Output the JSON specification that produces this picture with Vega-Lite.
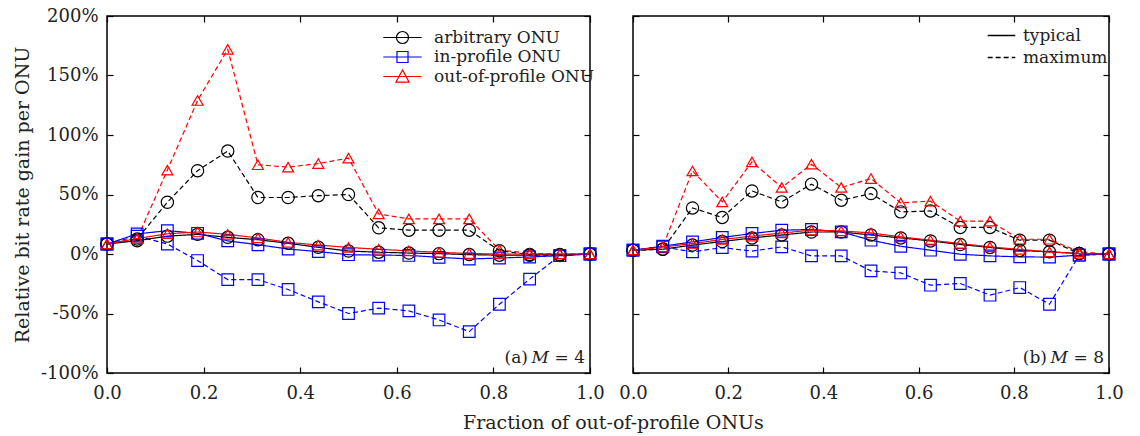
{
  "$schema": "https://vega.github.io/schema/vega-lite/v6.json",
  "background": "white",
  "padding": {"left": 12, "top": 6, "right": 5, "bottom": 5},
  "config": {
    "font": "DejaVu Serif",
    "view": {"stroke": "#000", "strokeWidth": 1.5},
    "axis": {
      "labelFont": "DejaVu Serif", "labelFontSize": 18, "labelColor": "#222", "labelFlush": false,
      "titleFont": "DejaVu Serif", "titleFontSize": 19, "titleFontWeight": "normal", "titleColor": "#222",
      "grid": false, "domain": false, "tickColor": "#000", "tickSize": -6, "tickWidth": 1.2
    },
    "axisX": {"labelPadding": 17},
    "axisY": {"labelPadding": 15},
    "legend": {
      "labelFont": "DejaVu Serif", "labelFontSize": 17, "labelColor": "#222", "padding": 0, "labelLimit": 400
    }
  },
  "datasets": {
    "d": [
      {"panel":"a","onu":"arbitrary ONU","stat":"maximum","x":0,"y":8.4},
      {"panel":"a","onu":"arbitrary ONU","stat":"maximum","x":0.0625,"y":12.6},
      {"panel":"a","onu":"arbitrary ONU","stat":"maximum","x":0.125,"y":43.5},
      {"panel":"a","onu":"arbitrary ONU","stat":"maximum","x":0.1875,"y":70},
      {"panel":"a","onu":"arbitrary ONU","stat":"maximum","x":0.25,"y":86.5},
      {"panel":"a","onu":"arbitrary ONU","stat":"maximum","x":0.3125,"y":47.5},
      {"panel":"a","onu":"arbitrary ONU","stat":"maximum","x":0.375,"y":47.5},
      {"panel":"a","onu":"arbitrary ONU","stat":"maximum","x":0.4375,"y":49},
      {"panel":"a","onu":"arbitrary ONU","stat":"maximum","x":0.5,"y":50},
      {"panel":"a","onu":"arbitrary ONU","stat":"maximum","x":0.5625,"y":22},
      {"panel":"a","onu":"arbitrary ONU","stat":"maximum","x":0.625,"y":20},
      {"panel":"a","onu":"arbitrary ONU","stat":"maximum","x":0.6875,"y":20},
      {"panel":"a","onu":"arbitrary ONU","stat":"maximum","x":0.75,"y":20},
      {"panel":"a","onu":"arbitrary ONU","stat":"maximum","x":0.8125,"y":2.8},
      {"panel":"a","onu":"arbitrary ONU","stat":"maximum","x":0.875,"y":-0.5},
      {"panel":"a","onu":"arbitrary ONU","stat":"maximum","x":0.9375,"y":-1.2},
      {"panel":"a","onu":"arbitrary ONU","stat":"maximum","x":1,"y":0},
      {"panel":"a","onu":"in-profile ONU","stat":"maximum","x":0,"y":8.4},
      {"panel":"a","onu":"in-profile ONU","stat":"maximum","x":0.0625,"y":15},
      {"panel":"a","onu":"in-profile ONU","stat":"maximum","x":0.125,"y":8.4},
      {"panel":"a","onu":"in-profile ONU","stat":"maximum","x":0.1875,"y":-5.5},
      {"panel":"a","onu":"in-profile ONU","stat":"maximum","x":0.25,"y":-21.5},
      {"panel":"a","onu":"in-profile ONU","stat":"maximum","x":0.3125,"y":-21.5},
      {"panel":"a","onu":"in-profile ONU","stat":"maximum","x":0.375,"y":-29.8},
      {"panel":"a","onu":"in-profile ONU","stat":"maximum","x":0.4375,"y":-40.2},
      {"panel":"a","onu":"in-profile ONU","stat":"maximum","x":0.5,"y":-50},
      {"panel":"a","onu":"in-profile ONU","stat":"maximum","x":0.5625,"y":-45.5},
      {"panel":"a","onu":"in-profile ONU","stat":"maximum","x":0.625,"y":-47.8},
      {"panel":"a","onu":"in-profile ONU","stat":"maximum","x":0.6875,"y":-55.4},
      {"panel":"a","onu":"in-profile ONU","stat":"maximum","x":0.75,"y":-65.2},
      {"panel":"a","onu":"in-profile ONU","stat":"maximum","x":0.8125,"y":-42.2},
      {"panel":"a","onu":"in-profile ONU","stat":"maximum","x":0.875,"y":-21.1},
      {"panel":"a","onu":"in-profile ONU","stat":"maximum","x":0.9375,"y":-1.4},
      {"panel":"a","onu":"in-profile ONU","stat":"maximum","x":1,"y":0},
      {"panel":"a","onu":"out-of-profile ONU","stat":"maximum","x":0,"y":8.4},
      {"panel":"a","onu":"out-of-profile ONU","stat":"maximum","x":0.0625,"y":13},
      {"panel":"a","onu":"out-of-profile ONU","stat":"maximum","x":0.125,"y":70.5},
      {"panel":"a","onu":"out-of-profile ONU","stat":"maximum","x":0.1875,"y":129},
      {"panel":"a","onu":"out-of-profile ONU","stat":"maximum","x":0.25,"y":172},
      {"panel":"a","onu":"out-of-profile ONU","stat":"maximum","x":0.3125,"y":75},
      {"panel":"a","onu":"out-of-profile ONU","stat":"maximum","x":0.375,"y":73},
      {"panel":"a","onu":"out-of-profile ONU","stat":"maximum","x":0.4375,"y":76},
      {"panel":"a","onu":"out-of-profile ONU","stat":"maximum","x":0.5,"y":80.6},
      {"panel":"a","onu":"out-of-profile ONU","stat":"maximum","x":0.5625,"y":33.7},
      {"panel":"a","onu":"out-of-profile ONU","stat":"maximum","x":0.625,"y":29.5},
      {"panel":"a","onu":"out-of-profile ONU","stat":"maximum","x":0.6875,"y":29.5},
      {"panel":"a","onu":"out-of-profile ONU","stat":"maximum","x":0.75,"y":29.5},
      {"panel":"a","onu":"out-of-profile ONU","stat":"maximum","x":0.8125,"y":3.4},
      {"panel":"a","onu":"out-of-profile ONU","stat":"maximum","x":0.875,"y":0.5},
      {"panel":"a","onu":"out-of-profile ONU","stat":"maximum","x":0.9375,"y":0},
      {"panel":"a","onu":"out-of-profile ONU","stat":"maximum","x":1,"y":0},
      {"panel":"a","onu":"arbitrary ONU","stat":"typical","x":0,"y":8.4},
      {"panel":"a","onu":"arbitrary ONU","stat":"typical","x":0.0625,"y":11.2},
      {"panel":"a","onu":"arbitrary ONU","stat":"typical","x":0.125,"y":15},
      {"panel":"a","onu":"arbitrary ONU","stat":"typical","x":0.1875,"y":16.5},
      {"panel":"a","onu":"arbitrary ONU","stat":"typical","x":0.25,"y":14},
      {"panel":"a","onu":"arbitrary ONU","stat":"typical","x":0.3125,"y":12},
      {"panel":"a","onu":"arbitrary ONU","stat":"typical","x":0.375,"y":9},
      {"panel":"a","onu":"arbitrary ONU","stat":"typical","x":0.4375,"y":5.6},
      {"panel":"a","onu":"arbitrary ONU","stat":"typical","x":0.5,"y":2.5},
      {"panel":"a","onu":"arbitrary ONU","stat":"typical","x":0.5625,"y":1.5},
      {"panel":"a","onu":"arbitrary ONU","stat":"typical","x":0.625,"y":0.8},
      {"panel":"a","onu":"arbitrary ONU","stat":"typical","x":0.6875,"y":0.3},
      {"panel":"a","onu":"arbitrary ONU","stat":"typical","x":0.75,"y":-0.5},
      {"panel":"a","onu":"arbitrary ONU","stat":"typical","x":0.8125,"y":-1},
      {"panel":"a","onu":"arbitrary ONU","stat":"typical","x":0.875,"y":-1},
      {"panel":"a","onu":"arbitrary ONU","stat":"typical","x":0.9375,"y":-0.5},
      {"panel":"a","onu":"arbitrary ONU","stat":"typical","x":1,"y":0},
      {"panel":"a","onu":"in-profile ONU","stat":"typical","x":0,"y":8.4},
      {"panel":"a","onu":"in-profile ONU","stat":"typical","x":0.0625,"y":16.9},
      {"panel":"a","onu":"in-profile ONU","stat":"typical","x":0.125,"y":19.6},
      {"panel":"a","onu":"in-profile ONU","stat":"typical","x":0.1875,"y":17.4},
      {"panel":"a","onu":"in-profile ONU","stat":"typical","x":0.25,"y":11},
      {"panel":"a","onu":"in-profile ONU","stat":"typical","x":0.3125,"y":7.8},
      {"panel":"a","onu":"in-profile ONU","stat":"typical","x":0.375,"y":4.2},
      {"panel":"a","onu":"in-profile ONU","stat":"typical","x":0.4375,"y":2},
      {"panel":"a","onu":"in-profile ONU","stat":"typical","x":0.5,"y":-0.6},
      {"panel":"a","onu":"in-profile ONU","stat":"typical","x":0.5625,"y":-0.9},
      {"panel":"a","onu":"in-profile ONU","stat":"typical","x":0.625,"y":-1.2},
      {"panel":"a","onu":"in-profile ONU","stat":"typical","x":0.6875,"y":-2.8},
      {"panel":"a","onu":"in-profile ONU","stat":"typical","x":0.75,"y":-4.2},
      {"panel":"a","onu":"in-profile ONU","stat":"typical","x":0.8125,"y":-3.4},
      {"panel":"a","onu":"in-profile ONU","stat":"typical","x":0.875,"y":-2.5},
      {"panel":"a","onu":"in-profile ONU","stat":"typical","x":0.9375,"y":-1.4},
      {"panel":"a","onu":"in-profile ONU","stat":"typical","x":1,"y":0},
      {"panel":"a","onu":"out-of-profile ONU","stat":"typical","x":0,"y":8.4},
      {"panel":"a","onu":"out-of-profile ONU","stat":"typical","x":0.0625,"y":13},
      {"panel":"a","onu":"out-of-profile ONU","stat":"typical","x":0.125,"y":17},
      {"panel":"a","onu":"out-of-profile ONU","stat":"typical","x":0.1875,"y":18.5},
      {"panel":"a","onu":"out-of-profile ONU","stat":"typical","x":0.25,"y":16.5},
      {"panel":"a","onu":"out-of-profile ONU","stat":"typical","x":0.3125,"y":13.5},
      {"panel":"a","onu":"out-of-profile ONU","stat":"typical","x":0.375,"y":9.8},
      {"panel":"a","onu":"out-of-profile ONU","stat":"typical","x":0.4375,"y":7.5},
      {"panel":"a","onu":"out-of-profile ONU","stat":"typical","x":0.5,"y":5.5},
      {"panel":"a","onu":"out-of-profile ONU","stat":"typical","x":0.5625,"y":4},
      {"panel":"a","onu":"out-of-profile ONU","stat":"typical","x":0.625,"y":2.6},
      {"panel":"a","onu":"out-of-profile ONU","stat":"typical","x":0.6875,"y":1.4},
      {"panel":"a","onu":"out-of-profile ONU","stat":"typical","x":0.75,"y":0.4},
      {"panel":"a","onu":"out-of-profile ONU","stat":"typical","x":0.8125,"y":0},
      {"panel":"a","onu":"out-of-profile ONU","stat":"typical","x":0.875,"y":0},
      {"panel":"a","onu":"out-of-profile ONU","stat":"typical","x":0.9375,"y":0},
      {"panel":"a","onu":"out-of-profile ONU","stat":"typical","x":1,"y":0},
      {"panel":"b","onu":"arbitrary ONU","stat":"maximum","x":0,"y":3.2},
      {"panel":"b","onu":"arbitrary ONU","stat":"maximum","x":0.0625,"y":4},
      {"panel":"b","onu":"arbitrary ONU","stat":"maximum","x":0.125,"y":38.7},
      {"panel":"b","onu":"arbitrary ONU","stat":"maximum","x":0.1875,"y":30.7},
      {"panel":"b","onu":"arbitrary ONU","stat":"maximum","x":0.25,"y":53},
      {"panel":"b","onu":"arbitrary ONU","stat":"maximum","x":0.3125,"y":43.8},
      {"panel":"b","onu":"arbitrary ONU","stat":"maximum","x":0.375,"y":58.7},
      {"panel":"b","onu":"arbitrary ONU","stat":"maximum","x":0.4375,"y":45.2},
      {"panel":"b","onu":"arbitrary ONU","stat":"maximum","x":0.5,"y":50.8},
      {"panel":"b","onu":"arbitrary ONU","stat":"maximum","x":0.5625,"y":35.4},
      {"panel":"b","onu":"arbitrary ONU","stat":"maximum","x":0.625,"y":36.2},
      {"panel":"b","onu":"arbitrary ONU","stat":"maximum","x":0.6875,"y":22.3},
      {"panel":"b","onu":"arbitrary ONU","stat":"maximum","x":0.75,"y":22.3},
      {"panel":"b","onu":"arbitrary ONU","stat":"maximum","x":0.8125,"y":11.6},
      {"panel":"b","onu":"arbitrary ONU","stat":"maximum","x":0.875,"y":11.6},
      {"panel":"b","onu":"arbitrary ONU","stat":"maximum","x":0.9375,"y":0.4},
      {"panel":"b","onu":"arbitrary ONU","stat":"maximum","x":1,"y":0},
      {"panel":"b","onu":"in-profile ONU","stat":"maximum","x":0,"y":3.2},
      {"panel":"b","onu":"in-profile ONU","stat":"maximum","x":0.0625,"y":6},
      {"panel":"b","onu":"in-profile ONU","stat":"maximum","x":0.125,"y":1.8},
      {"panel":"b","onu":"in-profile ONU","stat":"maximum","x":0.1875,"y":5.4},
      {"panel":"b","onu":"in-profile ONU","stat":"maximum","x":0.25,"y":2.4},
      {"panel":"b","onu":"in-profile ONU","stat":"maximum","x":0.3125,"y":6},
      {"panel":"b","onu":"in-profile ONU","stat":"maximum","x":0.375,"y":-1.6},
      {"panel":"b","onu":"in-profile ONU","stat":"maximum","x":0.4375,"y":-1.6},
      {"panel":"b","onu":"in-profile ONU","stat":"maximum","x":0.5,"y":-14.2},
      {"panel":"b","onu":"in-profile ONU","stat":"maximum","x":0.5625,"y":-15.9},
      {"panel":"b","onu":"in-profile ONU","stat":"maximum","x":0.625,"y":-26.2},
      {"panel":"b","onu":"in-profile ONU","stat":"maximum","x":0.6875,"y":-24.8},
      {"panel":"b","onu":"in-profile ONU","stat":"maximum","x":0.75,"y":-34.6},
      {"panel":"b","onu":"in-profile ONU","stat":"maximum","x":0.8125,"y":-28.2},
      {"panel":"b","onu":"in-profile ONU","stat":"maximum","x":0.875,"y":-42.2},
      {"panel":"b","onu":"in-profile ONU","stat":"maximum","x":0.9375,"y":-1},
      {"panel":"b","onu":"in-profile ONU","stat":"maximum","x":1,"y":0},
      {"panel":"b","onu":"out-of-profile ONU","stat":"maximum","x":0,"y":3.2},
      {"panel":"b","onu":"out-of-profile ONU","stat":"maximum","x":0.0625,"y":6},
      {"panel":"b","onu":"out-of-profile ONU","stat":"maximum","x":0.125,"y":69.8},
      {"panel":"b","onu":"out-of-profile ONU","stat":"maximum","x":0.1875,"y":43.8},
      {"panel":"b","onu":"out-of-profile ONU","stat":"maximum","x":0.25,"y":77.4},
      {"panel":"b","onu":"out-of-profile ONU","stat":"maximum","x":0.3125,"y":55.9},
      {"panel":"b","onu":"out-of-profile ONU","stat":"maximum","x":0.375,"y":75.5},
      {"panel":"b","onu":"out-of-profile ONU","stat":"maximum","x":0.4375,"y":55.9},
      {"panel":"b","onu":"out-of-profile ONU","stat":"maximum","x":0.5,"y":63.4},
      {"panel":"b","onu":"out-of-profile ONU","stat":"maximum","x":0.5625,"y":43},
      {"panel":"b","onu":"out-of-profile ONU","stat":"maximum","x":0.625,"y":44.4},
      {"panel":"b","onu":"out-of-profile ONU","stat":"maximum","x":0.6875,"y":27.6},
      {"panel":"b","onu":"out-of-profile ONU","stat":"maximum","x":0.75,"y":27.6},
      {"panel":"b","onu":"out-of-profile ONU","stat":"maximum","x":0.8125,"y":12.4},
      {"panel":"b","onu":"out-of-profile ONU","stat":"maximum","x":0.875,"y":12.4},
      {"panel":"b","onu":"out-of-profile ONU","stat":"maximum","x":0.9375,"y":1.8},
      {"panel":"b","onu":"out-of-profile ONU","stat":"maximum","x":1,"y":0},
      {"panel":"b","onu":"arbitrary ONU","stat":"typical","x":0,"y":3.2},
      {"panel":"b","onu":"arbitrary ONU","stat":"typical","x":0.0625,"y":4},
      {"panel":"b","onu":"arbitrary ONU","stat":"typical","x":0.125,"y":7.5},
      {"panel":"b","onu":"arbitrary ONU","stat":"typical","x":0.1875,"y":10.5},
      {"panel":"b","onu":"arbitrary ONU","stat":"typical","x":0.25,"y":13.5},
      {"panel":"b","onu":"arbitrary ONU","stat":"typical","x":0.3125,"y":16},
      {"panel":"b","onu":"arbitrary ONU","stat":"typical","x":0.375,"y":18.5},
      {"panel":"b","onu":"arbitrary ONU","stat":"typical","x":0.4375,"y":18.5},
      {"panel":"b","onu":"arbitrary ONU","stat":"typical","x":0.5,"y":16},
      {"panel":"b","onu":"arbitrary ONU","stat":"typical","x":0.5625,"y":13.5},
      {"panel":"b","onu":"arbitrary ONU","stat":"typical","x":0.625,"y":11},
      {"panel":"b","onu":"arbitrary ONU","stat":"typical","x":0.6875,"y":8},
      {"panel":"b","onu":"arbitrary ONU","stat":"typical","x":0.75,"y":5.5},
      {"panel":"b","onu":"arbitrary ONU","stat":"typical","x":0.8125,"y":3},
      {"panel":"b","onu":"arbitrary ONU","stat":"typical","x":0.875,"y":1.8},
      {"panel":"b","onu":"arbitrary ONU","stat":"typical","x":0.9375,"y":0.4},
      {"panel":"b","onu":"arbitrary ONU","stat":"typical","x":1,"y":0},
      {"panel":"b","onu":"in-profile ONU","stat":"typical","x":0,"y":3.2},
      {"panel":"b","onu":"in-profile ONU","stat":"typical","x":0.0625,"y":6.5},
      {"panel":"b","onu":"in-profile ONU","stat":"typical","x":0.125,"y":10.2},
      {"panel":"b","onu":"in-profile ONU","stat":"typical","x":0.1875,"y":13.9},
      {"panel":"b","onu":"in-profile ONU","stat":"typical","x":0.25,"y":17.2},
      {"panel":"b","onu":"in-profile ONU","stat":"typical","x":0.3125,"y":20},
      {"panel":"b","onu":"in-profile ONU","stat":"typical","x":0.375,"y":20.6},
      {"panel":"b","onu":"in-profile ONU","stat":"typical","x":0.4375,"y":18.6},
      {"panel":"b","onu":"in-profile ONU","stat":"typical","x":0.5,"y":11.6},
      {"panel":"b","onu":"in-profile ONU","stat":"typical","x":0.5625,"y":6.5},
      {"panel":"b","onu":"in-profile ONU","stat":"typical","x":0.625,"y":3.2},
      {"panel":"b","onu":"in-profile ONU","stat":"typical","x":0.6875,"y":-0.2},
      {"panel":"b","onu":"in-profile ONU","stat":"typical","x":0.75,"y":-1.6},
      {"panel":"b","onu":"in-profile ONU","stat":"typical","x":0.8125,"y":-2.4},
      {"panel":"b","onu":"in-profile ONU","stat":"typical","x":0.875,"y":-2.6},
      {"panel":"b","onu":"in-profile ONU","stat":"typical","x":0.9375,"y":-1},
      {"panel":"b","onu":"in-profile ONU","stat":"typical","x":1,"y":0},
      {"panel":"b","onu":"out-of-profile ONU","stat":"typical","x":0,"y":3.2},
      {"panel":"b","onu":"out-of-profile ONU","stat":"typical","x":0.0625,"y":5.8},
      {"panel":"b","onu":"out-of-profile ONU","stat":"typical","x":0.125,"y":8.8},
      {"panel":"b","onu":"out-of-profile ONU","stat":"typical","x":0.1875,"y":12.2},
      {"panel":"b","onu":"out-of-profile ONU","stat":"typical","x":0.25,"y":15},
      {"panel":"b","onu":"out-of-profile ONU","stat":"typical","x":0.3125,"y":17.7},
      {"panel":"b","onu":"out-of-profile ONU","stat":"typical","x":0.375,"y":20},
      {"panel":"b","onu":"out-of-profile ONU","stat":"typical","x":0.4375,"y":19.4},
      {"panel":"b","onu":"out-of-profile ONU","stat":"typical","x":0.5,"y":17.7},
      {"panel":"b","onu":"out-of-profile ONU","stat":"typical","x":0.5625,"y":14.4},
      {"panel":"b","onu":"out-of-profile ONU","stat":"typical","x":0.625,"y":11.6},
      {"panel":"b","onu":"out-of-profile ONU","stat":"typical","x":0.6875,"y":8.8},
      {"panel":"b","onu":"out-of-profile ONU","stat":"typical","x":0.75,"y":6},
      {"panel":"b","onu":"out-of-profile ONU","stat":"typical","x":0.8125,"y":3.8},
      {"panel":"b","onu":"out-of-profile ONU","stat":"typical","x":0.875,"y":1.8},
      {"panel":"b","onu":"out-of-profile ONU","stat":"typical","x":0.9375,"y":0.4},
      {"panel":"b","onu":"out-of-profile ONU","stat":"typical","x":1,"y":0}
    ],
    "notes": [
      {"panel":"a","tag":"(a)","var":"M","num":"= 4"},
      {"panel":"b","tag":"(b)","var":"M","num":"= 8"}
    ]
  },
  "title": {"text": "Fraction of out-of-profile ONUs", "orient": "bottom", "anchor": "middle", "font": "DejaVu Serif", "fontSize": 19, "fontWeight": "normal", "color": "#222", "offset": 11, "dx": 45},
  "spacing": 43,
  "bounds": "flush",
  "resolve": {
    "scale": {"color": "independent", "shape": "independent", "strokeDash": "independent", "size": "independent"},
    "legend": {"color": "independent", "shape": "independent", "strokeDash": "independent"}
  },
  "hconcat": [
    {
      "width": 483, "height": 357,
      "resolve": {"scale": {"color": "independent", "shape": "independent"}},
      "layer": [
        {
          "data": {"name": "d"},
          "transform": [{"filter": "datum.panel === 'a'"}],
          "mark": {"type": "line", "strokeWidth": 1.2},
          "encoding": {
            "x": {"field": "x", "type": "quantitative", "scale": {"domain": [0, 1], "nice": false}, "axis": {"orient": "bottom", "values": [0, 0.2, 0.4, 0.6, 0.8, 1], "format": ".1f", "title": null}},
            "y": {"field": "y", "type": "quantitative", "scale": {"domain": [-100, 200], "nice": false}, "axis": {"orient": "left", "values": [-100, -50, 0, 50, 100, 150, 200], "labelExpr": "datum.value + '%'", "title": "Relative bit rate gain per ONU", "titlePadding": 8}},
            "color": {"field": "onu", "type": "nominal", "scale": {"domain": ["arbitrary ONU", "in-profile ONU", "out-of-profile ONU"], "range": ["#000000", "#0000ff", "#ff0000"]}, "legend": null},
            "strokeDash": {"field": "stat", "type": "nominal", "scale": {"domain": ["typical", "maximum"], "range": [[1, 0], [5, 3]]}, "legend": null}
          }
        },
        {
          "data": {"name": "d"},
          "transform": [{"filter": "datum.panel === 'a'"}],
          "mark": {"type": "point", "filled": false, "strokeWidth": 1.2, "opacity": 1},
          "encoding": {
            "x": {"field": "x", "type": "quantitative", "scale": {"domain": [0, 1], "nice": false}, "axis": {"orient": "top", "values": [0, 0.2, 0.4, 0.6, 0.8, 1], "labels": false, "title": null}},
            "y": {"field": "y", "type": "quantitative", "scale": {"domain": [-100, 200], "nice": false}, "axis": {"orient": "right", "values": [-100, -50, 0, 50, 100, 150, 200], "labels": false, "title": null}},
            "color": {"field": "onu", "type": "nominal", "scale": {"domain": ["arbitrary ONU", "in-profile ONU", "out-of-profile ONU"], "range": ["#000000", "#0000ff", "#ff0000"]}, "legend": null},
            "shape": {"field": "onu", "type": "nominal", "scale": {"domain": ["arbitrary ONU", "in-profile ONU", "out-of-profile ONU"], "range": ["circle", "square", "triangle-up"]}, "legend": null},
            "size": {"field": "onu", "type": "ordinal", "scale": {"domain": ["arbitrary ONU", "in-profile ONU", "out-of-profile ONU"], "range": [150, 120, 170]}, "legend": null}
          }
        },
        {
          "data": {"name": "d"},
          "transform": [{"filter": "datum.panel === 'a'"}],
          "mark": {"type": "point", "filled": false, "strokeWidth": 1.2, "opacity": 0},
          "encoding": {
            "x": {"field": "x", "type": "quantitative", "axis": null},
            "y": {"field": "y", "type": "quantitative", "axis": null},
            "color": {"field": "onu", "type": "nominal", "scale": {"domain": ["arbitrary ONU", "in-profile ONU", "out-of-profile ONU"], "range": ["#000000", "#0000ff", "#ff0000"]},
              "legend": {"title": null, "orient": "none", "legendX": 287, "legendY": 13, "symbolSize": 144, "symbolStrokeWidth": 1.2, "symbolOpacity": 1, "symbolFillColor": "transparent", "labelOffset": 23, "rowPadding": 1.5}},
            "shape": {"field": "onu", "type": "nominal", "scale": {"domain": ["arbitrary ONU", "in-profile ONU", "out-of-profile ONU"], "range": ["M-3.2,0H3.2M-1,0A1,1,0,1,1,1,0A1,1,0,1,1,-1,0Z", "M-3.2,0H3.2M-0.92,-0.92H0.92V0.92H-0.92Z", "M-3.2,0H3.2M0,-1.1L1.1,0.95H-1.1Z"]},
              "legend": {"title": null, "orient": "none", "legendX": 287, "legendY": 13, "symbolSize": 144, "symbolStrokeWidth": 1.2, "symbolOpacity": 1, "symbolFillColor": "transparent", "labelOffset": 23, "rowPadding": 1.5}}
          }
        },
        {
          "data": {"name": "notes"},
          "transform": [{"filter": "datum.panel === 'a'"}],
          "mark": {"type": "text", "align": "right", "baseline": "alphabetic", "dx": -5, "dy": -10, "fontSize": 17, "font": "DejaVu Serif", "color": "#222"},
          "encoding": {
            "x": {"datum": 1, "type": "quantitative", "axis": null},
            "y": {"datum": -100, "type": "quantitative", "axis": null},
            "text": {"field": "num"}
          }
        },
        {
          "data": {"name": "notes"},
          "transform": [{"filter": "datum.panel === 'a'"}],
          "mark": {"type": "text", "align": "right", "baseline": "alphabetic", "dx": -41, "dy": -10, "fontSize": 17, "font": "DejaVu Serif", "fontStyle": "italic", "color": "#222"},
          "encoding": {
            "x": {"datum": 1, "type": "quantitative", "axis": null},
            "y": {"datum": -100, "type": "quantitative", "axis": null},
            "text": {"field": "var"}
          }
        },
        {
          "data": {"name": "notes"},
          "transform": [{"filter": "datum.panel === 'a'"}],
          "mark": {"type": "text", "align": "right", "baseline": "alphabetic", "dx": -62, "dy": -10, "fontSize": 17, "font": "DejaVu Serif", "color": "#222"},
          "encoding": {
            "x": {"datum": 1, "type": "quantitative", "axis": null},
            "y": {"datum": -100, "type": "quantitative", "axis": null},
            "text": {"field": "tag"}
          }
        }
      ]
    },
    {
      "width": 476, "height": 357,
      "layer": [
        {
          "data": {"name": "d"},
          "transform": [{"filter": "datum.panel === 'b'"}],
          "mark": {"type": "line", "strokeWidth": 1.2},
          "encoding": {
            "x": {"field": "x", "type": "quantitative", "scale": {"domain": [0, 1], "nice": false}, "axis": {"orient": "bottom", "values": [0, 0.2, 0.4, 0.6, 0.8, 1], "format": ".1f", "title": null}},
            "y": {"field": "y", "type": "quantitative", "scale": {"domain": [-100, 200], "nice": false}, "axis": {"orient": "left", "values": [-100, -50, 0, 50, 100, 150, 200], "labels": false, "title": null}},
            "color": {"field": "onu", "type": "nominal", "scale": {"domain": ["arbitrary ONU", "in-profile ONU", "out-of-profile ONU"], "range": ["#000000", "#0000ff", "#ff0000"]}, "legend": null},
            "strokeDash": {"field": "stat", "type": "nominal", "scale": {"domain": ["typical", "maximum"], "range": [[1, 0], [5, 3]]},
              "legend": {"title": null, "orient": "none", "legendX": 360, "legendY": 11, "symbolSize": 36, "symbolStrokeWidth": 1.5, "symbolStrokeColor": "#000", "labelOffset": 13, "rowPadding": 4,
                "encoding": {"symbols": {"shape": {"value": "M-4.6,0H4.6"}, "stroke": {"value": "#000"}}}}}
          }
        },
        {
          "data": {"name": "d"},
          "transform": [{"filter": "datum.panel === 'b'"}],
          "mark": {"type": "point", "filled": false, "strokeWidth": 1.2, "opacity": 1},
          "encoding": {
            "x": {"field": "x", "type": "quantitative", "scale": {"domain": [0, 1], "nice": false}, "axis": {"orient": "top", "values": [0, 0.2, 0.4, 0.6, 0.8, 1], "labels": false, "title": null}},
            "y": {"field": "y", "type": "quantitative", "scale": {"domain": [-100, 200], "nice": false}, "axis": {"orient": "right", "values": [-100, -50, 0, 50, 100, 150, 200], "labels": false, "title": null}},
            "color": {"field": "onu", "type": "nominal", "scale": {"domain": ["arbitrary ONU", "in-profile ONU", "out-of-profile ONU"], "range": ["#000000", "#0000ff", "#ff0000"]}, "legend": null},
            "shape": {"field": "onu", "type": "nominal", "scale": {"domain": ["arbitrary ONU", "in-profile ONU", "out-of-profile ONU"], "range": ["circle", "square", "triangle-up"]}, "legend": null},
            "size": {"field": "onu", "type": "ordinal", "scale": {"domain": ["arbitrary ONU", "in-profile ONU", "out-of-profile ONU"], "range": [150, 120, 170]}, "legend": null}
          }
        },
        {
          "data": {"name": "notes"},
          "transform": [{"filter": "datum.panel === 'b'"}],
          "mark": {"type": "text", "align": "right", "baseline": "alphabetic", "dx": -5, "dy": -10, "fontSize": 17, "font": "DejaVu Serif", "color": "#222"},
          "encoding": {
            "x": {"datum": 1, "type": "quantitative", "axis": null},
            "y": {"datum": -100, "type": "quantitative", "axis": null},
            "text": {"field": "num"}
          }
        },
        {
          "data": {"name": "notes"},
          "transform": [{"filter": "datum.panel === 'b'"}],
          "mark": {"type": "text", "align": "right", "baseline": "alphabetic", "dx": -41, "dy": -10, "fontSize": 17, "font": "DejaVu Serif", "fontStyle": "italic", "color": "#222"},
          "encoding": {
            "x": {"datum": 1, "type": "quantitative", "axis": null},
            "y": {"datum": -100, "type": "quantitative", "axis": null},
            "text": {"field": "var"}
          }
        },
        {
          "data": {"name": "notes"},
          "transform": [{"filter": "datum.panel === 'b'"}],
          "mark": {"type": "text", "align": "right", "baseline": "alphabetic", "dx": -62, "dy": -10, "fontSize": 17, "font": "DejaVu Serif", "color": "#222"},
          "encoding": {
            "x": {"datum": 1, "type": "quantitative", "axis": null},
            "y": {"datum": -100, "type": "quantitative", "axis": null},
            "text": {"field": "tag"}
          }
        }
      ]
    }
  ]
}
